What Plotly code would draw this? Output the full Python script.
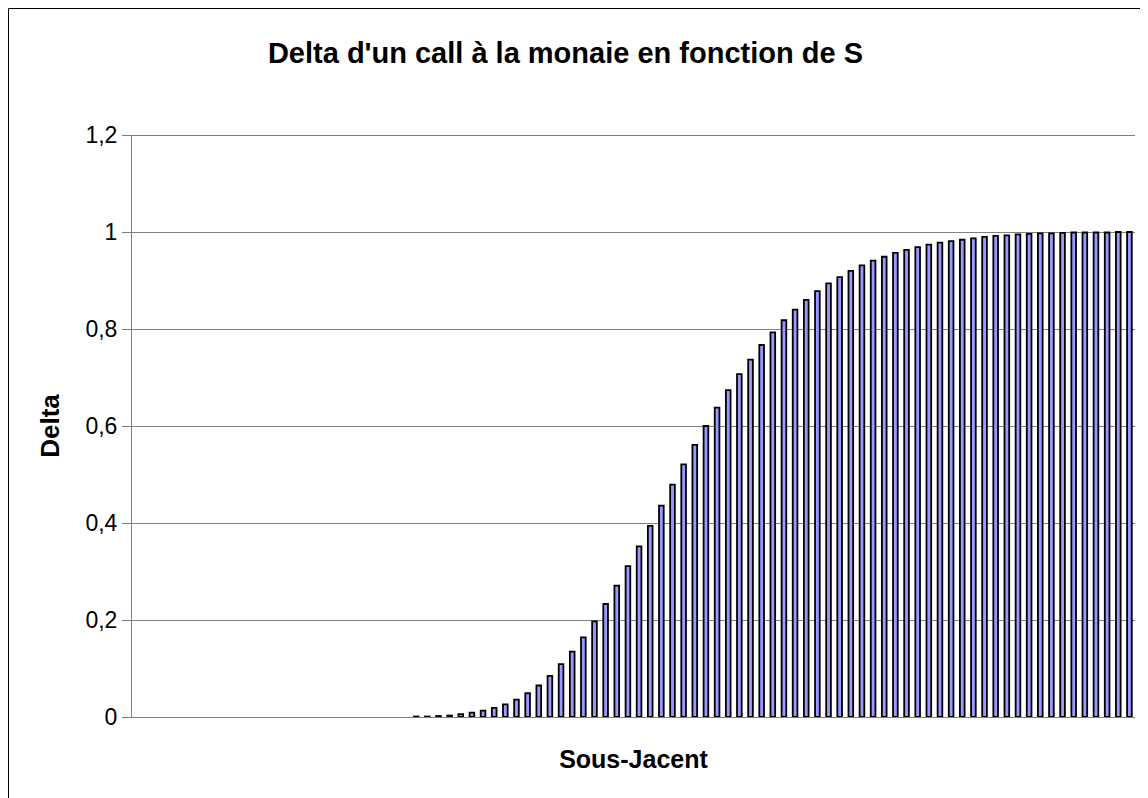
import plotly.graph_objects as go

# 90 categories of the underlying (S); the first 25 have no visible bar
categories = [str(i) for i in range(1, 91)]
delta_values = [None] * 25 + [
    0.001, 0.001, 0.002, 0.003, 0.006, 0.009, 0.013, 0.019, 0.026, 0.036,
    0.049, 0.065, 0.085, 0.109, 0.135, 0.164, 0.197, 0.233, 0.271, 0.311,
    0.352, 0.394, 0.436, 0.479, 0.521, 0.561, 0.600, 0.638, 0.674, 0.707,
    0.737, 0.767, 0.793, 0.818, 0.840, 0.860, 0.878, 0.894, 0.907, 0.920,
    0.931, 0.941, 0.949, 0.957, 0.963, 0.969, 0.974, 0.978, 0.981, 0.984,
    0.987, 0.990, 0.992, 0.993, 0.995, 0.996, 0.997, 0.997, 0.998, 0.999,
    0.999, 0.999, 0.999, 1.000, 1.000,
]
y_ticks = [0, 0.2, 0.4, 0.6, 0.8, 1.0, 1.2]

title_text = "Delta d'un call à la monaie en fonction de S"
x_title = "Sous-Jacent"
y_title = "Delta"

FONT = "Liberation Sans, Arial, sans-serif"

fig = go.Figure(
    go.Bar(
        x=categories,
        y=delta_values,
        marker=dict(color="#9999FF", line=dict(color="#000000", width=1.8)),
        width=0.42,
        hoverinfo="x+y",
    )
)

fig.update_layout(
    width=1140,
    height=790,
    margin=dict(l=124, r=13, t=127, b=81),
    paper_bgcolor="white",
    plot_bgcolor="white",
    separators=", ",
    showlegend=False,
    font=dict(family=FONT, color="black"),
    title=dict(
        text="<b>" + title_text + "</b>",
        x=0.489,
        xanchor="center",
        y=0.943,
        yanchor="middle",
        font=dict(family=FONT, size=29, color="black"),
    ),
    xaxis=dict(
        type="category",
        showticklabels=False,
        ticks="",
        showgrid=False,
        showline=True,
        linecolor="#808080",
        linewidth=1,
        title=dict(text="<b>" + x_title + "</b>", font=dict(family=FONT, size=25), standoff=33),
        range=[-0.5, 89.5],
    ),
    yaxis=dict(
        range=[0, 1.2],
        tickvals=y_ticks,
        ticks="outside",
        ticklen=9,
        tickcolor="#808080",
        tickfont=dict(family=FONT, size=23, color="black"),
        showgrid=True,
        gridcolor="#808080",
        gridwidth=1,
        showline=True,
        linecolor="#808080",
        linewidth=1,
        zeroline=False,
        title=dict(text="<b>" + y_title + "</b>", font=dict(family=FONT, size=26), standoff=18),
    ),
    shapes=[
        dict(
            type="rect",
            xref="paper", yref="paper",
            xsizemode="pixel", ysizemode="pixel",
            xanchor=0, yanchor=1,
            x0=-123.5, x1=1200,
            y0=126.5, y1=-800,
            line=dict(color="black", width=1),
            fillcolor="rgba(0,0,0,0)",
            layer="below",
        ),
        dict(
            type="line",
            xref="paper", yref="y",
            x0=0, x1=1, y0=1.2, y1=1.2,
            line=dict(color="#000000", width=1),
        ),
    ],
)

fig.write_html("out.html")
